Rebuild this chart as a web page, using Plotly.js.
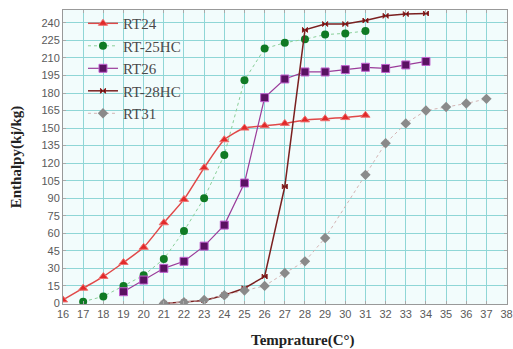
<!DOCTYPE html>
<html>
<head>
<meta charset="utf-8">
<script src="https://cdn.plot.ly/plotly-3.0.1.min.js"></script>
<style>html,body{margin:0;padding:0;background:#fff;}#chart{width:513px;height:349px;}</style>
</head>
<body>
<div id="chart"></div>
<script>
// Data
const rt24X = [16, 17, 18, 19, 20, 21, 22, 23, 24, 25, 26, 27, 28, 29, 30, 31];
const rt24Y = [3, 13, 23, 35, 48, 69, 89, 116, 140, 150, 152, 154, 157, 158, 159, 161];

const rt25hcX = [17, 18, 19, 20, 21, 22, 23, 24, 25, 26, 27, 28, 29, 30, 31];
const rt25hcY = [1.5, 6, 15, 24, 38, 62, 90, 127, 191, 218, 223, 226, 230, 231, 233];

const rt26X = [19, 20, 21, 22, 23, 24, 25, 26, 27, 28, 29, 30, 31, 32, 33, 34];
const rt26Y = [10, 20, 30, 36, 49, 67, 103, 176, 192, 198, 198, 200, 202, 201, 204, 207];

const rt28hcX = [21, 22, 23, 24, 25, 26, 27, 28, 29, 30, 31, 32, 33, 34];
const rt28hcY = [0, 1, 2.5, 7, 13, 23, 100, 234, 239, 239, 242, 246, 247.5, 248];

const rt31X = [21, 22, 23, 24, 25, 26, 27, 28, 29, 31, 32, 33, 34, 35, 36, 37];
const rt31Y = [0, 1, 3, 7, 11, 15, 26, 36, 56, 110, 137, 154, 165, 168, 171, 175];

const seriesNames = ['RT24', 'RT-25HC', 'RT26', 'RT-28HC', 'RT31'];

const xTicks = [];
for (let v = 16; v <= 38; v++) xTicks.push(v);
const yTicks = [];
for (let v = 0; v <= 240; v += 15) yTicks.push(v);

const traces = [
  {x: rt24X, y: rt24Y, name: seriesNames[0], mode: 'lines+markers',
   line: {color: '#e04848', width: 1.5, shape: 'spline', smoothing: 0.6},
   marker: {symbol: 'triangle-up', size: 8, color: '#e02a2a', line: {color: '#f07070', width: 1}}},
  {x: rt25hcX, y: rt25hcY, name: seriesNames[1], mode: 'lines+markers',
   line: {color: '#8ad09a', width: 1, dash: 'dot'},
   marker: {symbol: 'circle', size: 8, color: '#107a24'}},
  {x: rt26X, y: rt26Y, name: seriesNames[2], mode: 'lines+markers',
   line: {color: '#9a3c9a', width: 1.2},
   marker: {symbol: 'square', size: 8, color: '#5a1262', line: {color: '#c060d0', width: 1}}},
  {x: rt28hcX, y: rt28hcY, name: seriesNames[3], mode: 'lines+markers',
   line: {color: '#7a2020', width: 1.5},
   marker: {symbol: 'bowtie', size: 5, color: '#5a1414', line: {color: '#902020', width: 1}}},
  {x: rt31X, y: rt31Y, name: seriesNames[4], mode: 'lines+markers',
   line: {color: '#d4b4b4', width: 1, dash: 'dot'},
   marker: {symbol: 'diamond', size: 8, color: '#8a8a8a'}}
];

const tickFont = {family: "'Liberation Sans', Arial, sans-serif", size: 11, color: '#5a5a5a'};
const serif = "'Liberation Serif', 'Times New Roman', serif";

const layout = {
  width: 513, height: 349,
  margin: {l: 63, r: 6, t: 10, b: 45, pad: 0},
  paper_bgcolor: '#ffffff',
  plot_bgcolor: '#f2fcfc',
  showlegend: true,
  legend: {x: 0.045, y: 1.01, xanchor: 'left', yanchor: 'top', bgcolor: 'rgba(0,0,0,0)',
           font: {family: serif, size: 15, color: '#4a4a4a'},
           tracegroupgap: 0, itemsizing: 'trace', itemwidth: 30},
  xaxis: {range: [16, 38.02], tickvals: xTicks, ticktext: xTicks.map(String), tickfont: tickFont,
          showgrid: true, gridcolor: '#8fd6d6', gridwidth: 1, zeroline: false,
          showline: true, linecolor: '#999', linewidth: 1, mirror: 'ticks',
          ticks: 'inside', ticklen: 3, tickcolor: '#aaa'},
  yaxis: {range: [-0.5, 251], tickvals: yTicks, ticktext: yTicks.map(String), tickfont: tickFont,
          showgrid: true, gridcolor: '#8fd6d6', gridwidth: 1, zeroline: false,
          showline: true, linecolor: '#999', linewidth: 1, mirror: 'ticks',
          ticks: 'inside', ticklen: 3, tickcolor: '#aaa',
          title: {text: 'Enthalpy(kj/kg)', standoff: 16,
                  font: {family: serif, size: 15, color: '#222', weight: 'bold'}}},
  annotations: [
    {text: '<b>Temprature(C°)</b>', xref: 'paper', yref: 'paper', x: 0.54, y: 0, yshift: -36,
     xanchor: 'center', yanchor: 'middle', showarrow: false,
     font: {family: serif, size: 15, color: '#222'}}
  ]
};

Plotly.newPlot('chart', traces, layout, {displayModeBar: false, staticPlot: true});
</script>
</body>
</html>
